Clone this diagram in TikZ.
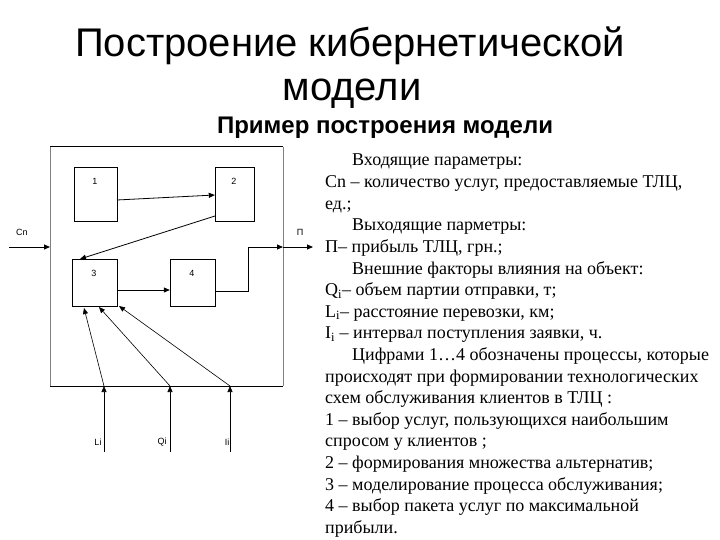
\documentclass[tikz,border=0pt]{standalone}
\usepackage{fontspec}
\setmainfont{Liberation Serif}
\newfontfamily\sans{Liberation Sans}
\usetikzlibrary{arrows.meta}
\begin{document}
\begin{tikzpicture}[x=1pt,y=-1pt,
  blk/.style={draw,thin,inner sep=0},
  lbl/.style={font=\sans\fontsize{9}{10}\selectfont,inner sep=0},
  arr/.style={-{Triangle[length=6pt,width=5pt]},line width=0.8pt},
  txt/.style={anchor=base west,inner sep=0,font=\fontsize{18}{20}\selectfont}]
\useasboundingbox (0,0) rectangle (720,540);
\node[font=\sans\fontsize{40}{44}\selectfont] (t1) at (350,46) {Построение кибернетической};
\node[font=\sans\fontsize{40}{44}\selectfont] (t2) at (352,94) {модели};
\node[font=\sans\bfseries\fontsize{24}{28}\selectfont] (t3) at (385,128) {Пример построения модели};
% outer frame
\draw[gray,thin] (50,147) -- (50,386) (283,147) -- (283,386);
\draw[line width=1pt] (50,147) -- (283,147) (50,386) -- (283,386);
\coordinate (fl) at (50,247);
\coordinate (fr) at (283,247);
\node[blk,minimum width=43,minimum height=54] (b1) at (95.5,194) {};
\node[lbl] at (95,181) {1};
\node[blk,minimum width=39,minimum height=54] (b2) at (234.5,194) {};
\node[lbl] at (234,181) {2};
\node[blk,minimum width=45,minimum height=47] (b3) at (94.5,282.5) {};
\node[lbl] at (94,273) {3};
\node[blk,minimum width=45,minimum height=47] (b4) at (192.5,282.5) {};
\node[lbl] at (192,273) {4};
\draw[arr] (117,200) -- (b2.west |- 0,195);
\draw[arr] (215,216) -- (80,259);
\draw[arr] (117,290) -- (b4.west |- 0,290);
\draw[line width=0.8pt] (215,291) -- (248,291) -- (248,247);
\draw[arr] (248,247) -- (fr);
\draw[arr] (fr) -- (313,247);
\node[lbl] at (300,232) {П};
\coordinate (cn) at (9,247);
\draw[arr] (cn) -- (fl);
\node[lbl] at (22,232) {Cn};
% inputs
\coordinate (li) at (104,452); \coordinate (lib) at (104,386);
\coordinate (qi) at (170,452); \coordinate (qib) at (170,386);
\coordinate (ii) at (230,452); \coordinate (iib) at (230,386);
\draw[arr,line width=0.6pt] (li) -- (lib);
\draw[arr,line width=0.6pt] (lib) -- (84,308);
\draw[arr,line width=0.6pt] (qi) -- (qib);
\draw[arr,line width=0.6pt] (qib) -- (99,307);
\draw[arr,line width=0.6pt] (ii) -- (iib);
\draw[arr,line width=0.6pt] (iib) -- (119,306);
\node[lbl] at (98,442) {Li};
\node[lbl] at (162,442) {Qi};
\node[lbl] at (227,442) {Ii};
% text
\node[txt] (l1) at (352,166) {Входящие параметры:};
\node[txt] (l2) at (325,187.6) {Cn – количество услуг, предоставляемые ТЛЦ,};
\node[txt] (l3) at (325,209.2) {ед.;};
\node[txt] (l4) at (352,230.8) {Выходящие парметры:};
\node[txt] (l5) at (325,252.4) {П– прибыль ТЛЦ, грн.;};
\node[txt] (l6) at (352,274) {Внешние факторы влияния на объект:};
\node[txt] (l7) at (325,295.6) {Q\textsubscript{i}– объем партии отправки, т;};
\node[txt] (l8) at (325,317.2) {L\textsubscript{i}– расстояние перевозки, км;};
\node[txt] (l9) at (325,338.8) {I\textsubscript{i} – интервал поступления заявки, ч.};
\node[txt] (l10) at (352,360.4) {Цифрами 1…4 обозначены процессы, которые};
\node[txt] (l11) at (325,382) {происходят при формировании технологических};
\node[txt] (l12) at (325,403.6) {схем обслуживания клиентов в ТЛЦ :};
\node[txt] (l13) at (325,425.2) {1 – выбор услуг, пользующихся наибольшим};
\node[txt] (l14) at (325,446.8) {спросом у клиентов ;};
\node[txt] (l15) at (325,468.4) {2 – формирования множества альтернатив;};
\node[txt] (l16) at (325,490) {3 – моделирование процесса обслуживания;};
\node[txt] (l17) at (325,511.6) {4 – выбор пакета услуг по максимальной};
\node[txt] (l18) at (325,533.2) {прибыли.};
\end{tikzpicture}
\end{document}
